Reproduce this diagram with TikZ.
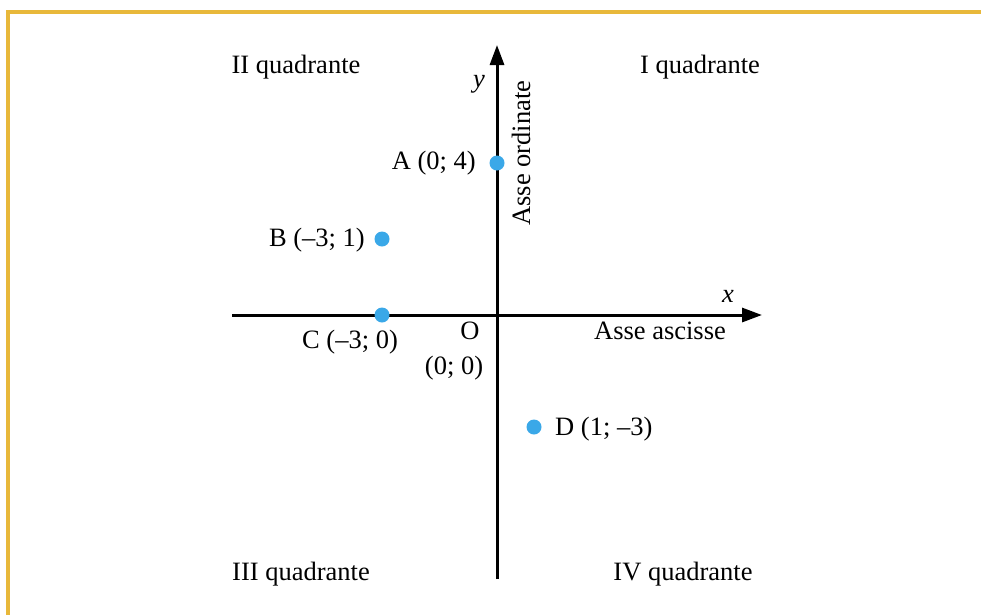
\documentclass[tikz,border=0pt]{standalone}
\usepackage{fontspec}
\setmainfont{Liberation Serif}
\usetikzlibrary{arrows.meta}
\definecolor{frame}{HTML}{E8B83A}
\definecolor{dot}{HTML}{3AA8E8}
\begin{document}
\begin{tikzpicture}[x=1pt,y=-1pt,
  lbl/.style={font=\fontsize{26.5}{30}\selectfont, inner sep=0pt},
  axis/.style={line width=3pt, -{Triangle[length=20pt,width=14pt]}},
  pt/.style={circle, fill=dot, minimum size=15pt, inner sep=0pt}]
\useasboundingbox (0,0) rectangle (981,614);
\draw[frame, line width=3.5pt] (8,620) -- (8,12) -- (990,12);
\coordinate (xl) at (232,315);
\coordinate (xr) at (762,315);
\coordinate (yb) at (497,579);
\coordinate (yt) at (497,45);
\draw[axis] (xl) -- (xr);
\draw[axis] (yb) -- (yt);
\node[pt] (A) at (497,163) {};
\node[pt] (B) at (382,239) {};
\node[pt] (C) at (382,315) {};
\node[pt] (D) at (534,427) {};
\node[lbl] (q2) at (296,67) {II quadrante};
\node[lbl] (q1) at (700,67) {I quadrante};
\node[lbl] (q3) at (301,574) {III quadrante};
\node[lbl] (q4) at (683,574) {IV quadrante};
\node[lbl] (ylab) at (479,84) {\itshape y};
\node[lbl, rotate=90] (yname) at (521,153) {Asse ordinate};
\node[lbl, anchor=east] (Al) at (476,163) {A (0; 4)};
\node[lbl, anchor=east] (Bl) at (365,240) {B (–3; 1)};
\node[lbl] (Cl) at (350,342) {C (–3; 0)};
\node[lbl] (O) at (470,331) {O};
\node[lbl] (Ol) at (454,368) {(0; 0)};
\node[lbl] (xlab) at (728,296) {\itshape x};
\node[lbl] (xname) at (660,331) {Asse ascisse};
\node[lbl, anchor=west] (Dl) at (555,429) {D (1; –3)};
\end{tikzpicture}
\end{document}
